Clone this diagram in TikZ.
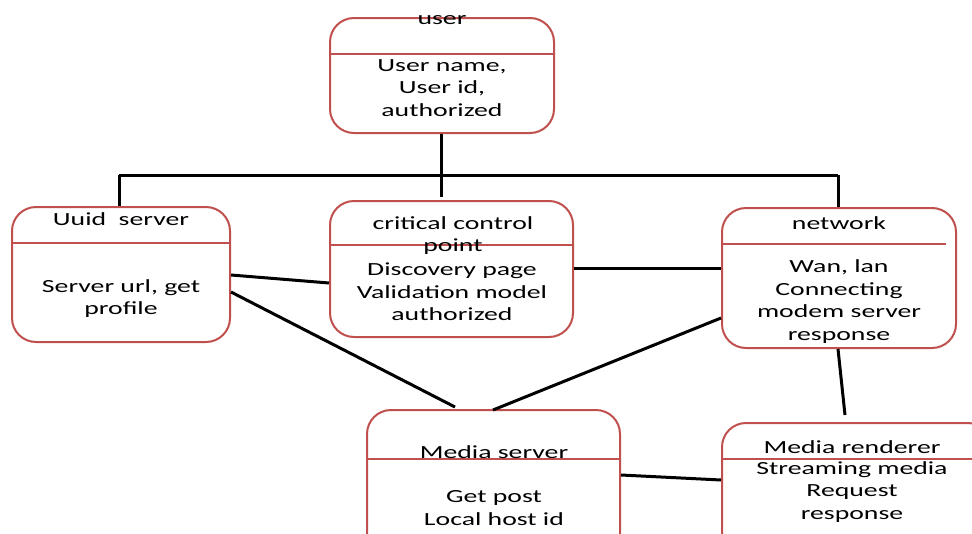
\documentclass[tikz,border=0pt]{standalone}
\usepackage{fontspec}
\setmainfont{Carlito}[FakeStretch=1.5]
\begin{document}
\begin{tikzpicture}[x=1pt,y=-1pt,
  box/.style={draw=boxred, line width=2pt, fill=white, rounded corners=24pt, inner sep=0pt},
  divider/.style={draw=boxred, line width=2.2pt},
  wire/.style={draw=black, line width=3pt},
  label/.style={align=center, inner sep=0pt, font=\fontsize{18.5}{22.5}\selectfont}]
\definecolor{boxred}{RGB}{192,80,77}
\useasboundingbox (0,0) rectangle (972,533);

% bus from the user box down to the three middle boxes
\coordinate (busL) at (119,175);
\coordinate (busM) at (441,175);
\coordinate (busR) at (838,175);

% boxes
\node[box, minimum width=224pt, minimum height=115pt] (user) at (442,75.5) {};
\node[box, minimum width=218pt, minimum height=135pt] (uuid) at (121,274.5) {};
\node[box, minimum width=243pt, minimum height=136pt] (ccp) at (451.5,269) {};
\node[box, minimum width=234pt, minimum height=140pt] (net) at (839,278) {};
\node[box, minimum width=253pt, minimum height=150pt] (ms) at (493.5,485) {};
\node[box, minimum width=270pt, minimum height=150pt] (mr) at (857,498) {};

% compartment dividers
\draw[divider] (user.west |- 0,54) -- (user.east |- 0,54);
\draw[divider] (uuid.west |- 0,243) -- (uuid.east |- 0,243);
\draw[divider] (ccp.west |- 0,245) -- (ccp.east |- 0,245);
\draw[divider] (net.west |- 0,244) -- (946,244);
\draw[divider] (ms.west |- 0,459) -- (ms.east |- 0,459);
\draw[divider] (mr.west |- 0,459) -- (mr.east |- 0,459);

% labels
\node[label] (userT) at (442,20) {user};
\node[label] (userB) at (442,88) {User name,\\User id,\\authorized};
\node[label] (uuidT) at (121,219) {Uuid\ \ server};
\node[label] (uuidB) at (121,298.5) {Server url, get\\profile};
\node[label] (ccpT) at (453,235.5) {critical control\\point};
\node[label] (ccpB) at (452,292) {Discovery page\\Validation model\\authorized};
\node[label] (netT) at (839,223) {network};
\node[label] (netB) at (839,301.5) {Wan, lan\\Connecting\\modem server\\response};
\node[label] (msT) at (494,452) {Media server};
\node[label] (msB) at (494,508) {Get post\\Local host id};
\node[label] (mrT) at (852,447) {Media renderer};
\node[label] (mrB) at (852,492) {Streaming media\\Request\\response};

% connectors
\draw[wire] (user.south -| busM) -- (busM);
\draw[wire] (busL) -- (busR);
\draw[wire] (busL) -- (uuid.north -| busL);
\draw[wire] (busM) -- (441,197);
\draw[wire] (busR) -- (net.north -| busR);
\draw[wire] (uuid.east |- 0,275) -- (ccp.west |- 0,283);
\draw[wire] (ccp.east |- 0,268) -- (net.west |- 0,268);
\draw[wire] (uuid.east |- 0,292) -- (455,407);
\draw[wire] (net.west |- 0,318) -- (493,410);
\draw[wire] (net.south -| 838,0) -- (845,415);
\draw[wire] (ms.east |- 0,475) -- (mr.west |- 0,480);
\end{tikzpicture}
\end{document}
